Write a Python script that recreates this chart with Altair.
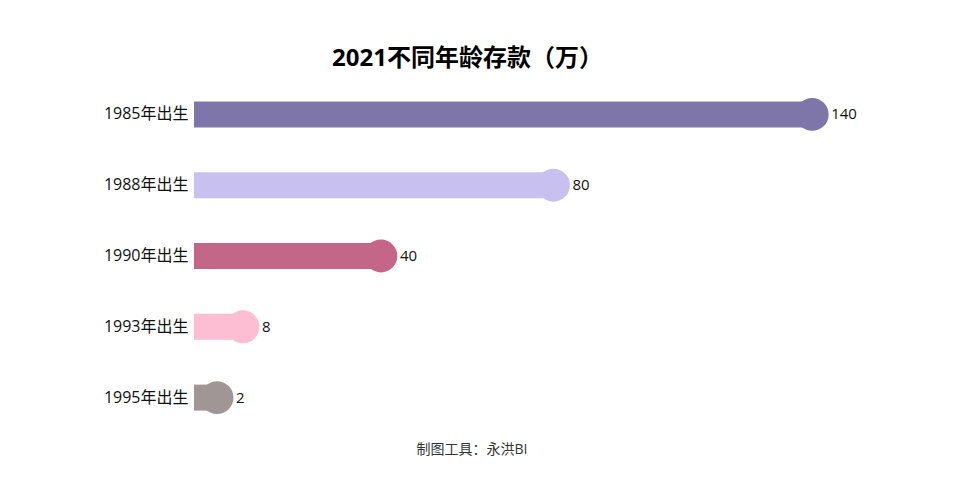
import altair as alt
import pandas as pd

categories = ["1985年出生", "1988年出生", "1990年出生", "1993年出生", "1995年出生"]
values = [140, 80, 40, 8, 2]
colors = ["#7E76A8", "#C8C0EE", "#C46688", "#FDBDD2", "#A09696"]

df = pd.DataFrame({"cat": categories, "val": values, "color": colors})

FONT = "Open Sans, Noto Sans CJK SC, sans-serif"
W, H = 726, 354
XMIN = -3.34
xs = alt.Scale(domain=[XMIN, 165], nice=False, zero=False)
ys = alt.Scale(domain=categories, paddingInner=0, paddingOuter=0)

base = alt.Chart(df).encode(
    y=alt.Y("cat:N", scale=ys, sort=categories,
            axis=alt.Axis(title=None, ticks=False, domain=False, labelFontSize=16,
                          labelColor="#111", labelPadding=6, labelFont=FONT)),
)

bars = base.mark_bar(size=26).encode(
    x=alt.X("val:Q", scale=xs, axis=None),
    x2=alt.datum(XMIN),
    color=alt.Color("color:N", scale=None),
)
dots = base.mark_circle(size=1080, opacity=1).encode(
    x=alt.X("val:Q", scale=xs, axis=None),
    color=alt.Color("color:N", scale=None),
)
labels = base.mark_text(align="left", baseline="middle", dx=19, fontSize=15,
                        font=FONT, color="#111").encode(
    x=alt.X("val:Q", scale=xs, axis=None),
    text="val:Q",
)
footer = alt.Chart(pd.DataFrame({"t": ["制图工具：永洪BI"]})).mark_text(
    fontSize=14, font=FONT, color="#333", align="center", baseline="middle"
).encode(x=alt.value(472 - 194), y=alt.value(371), text="t:N")

chart = alt.layer(bars, dots, labels, footer).properties(
    width=W, height=H,
    title=alt.TitleParams("2021不同年龄存款（万）", anchor="start", frame="group", dx=138,
                          fontSize=24, font=FONT, fontWeight="bold",
                          color="#000", offset=8),
    autosize=alt.AutoSizeParams(type="none"),
    padding={"left": 186, "top": 71, "right": 26, "bottom": 57},
).configure_view(stroke=None)

chart.save("out.html", embed_options={"renderer": "svg", "actions": False})
